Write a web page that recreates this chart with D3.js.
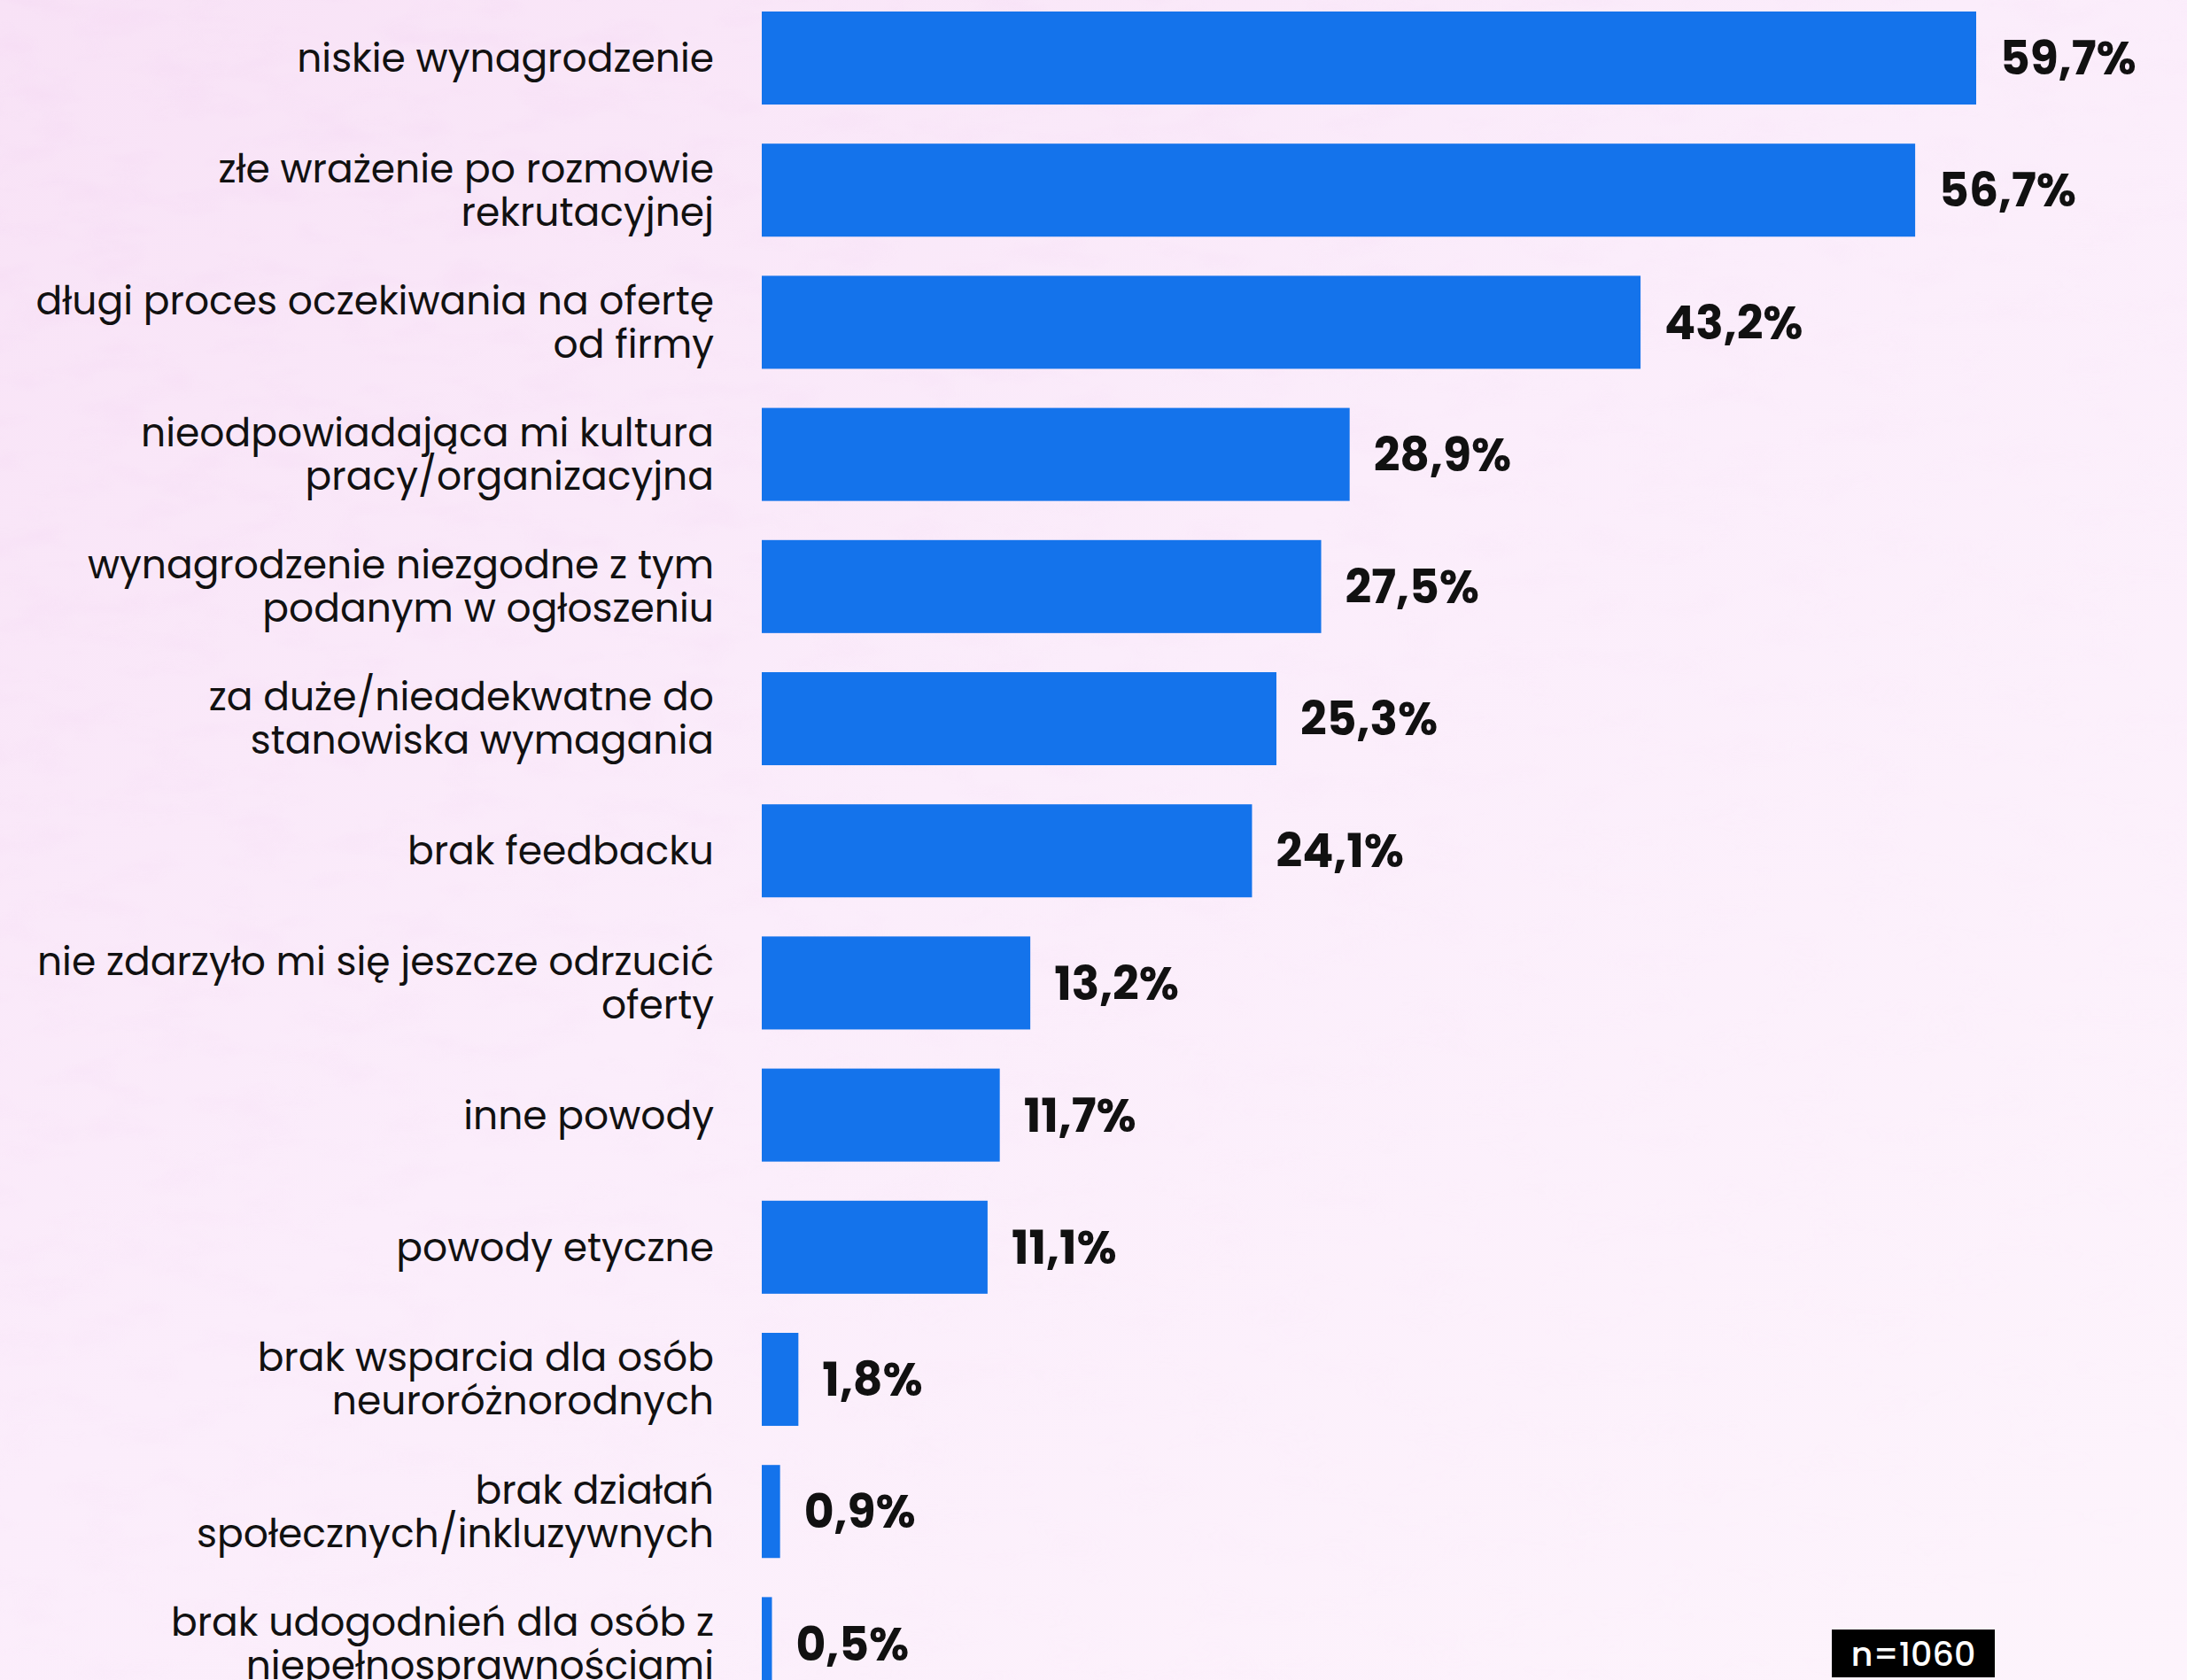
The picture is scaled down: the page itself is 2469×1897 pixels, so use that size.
<!DOCTYPE html>
<html>
<head>
<meta charset="utf-8">
<script src="https://cdn.jsdelivr.net/npm/d3@7"></script>
<style>
  html, body { margin: 0; padding: 0; }
  body { width: 2469px; height: 1897px; overflow: hidden; }
</style>
</head>
<body>
<svg id="bar-chart"></svg>
<script>
// Data
const categories = [
    "niskie wynagrodzenie",
    "złe wrażenie po rozmowie\nrekrutacyjnej",
    "długi proces oczekiwania na ofertę\nod firmy",
    "nieodpowiadająca mi kultura\npracy/organizacyjna",
    "wynagrodzenie niezgodne z tym\npodanym w ogłoszeniu",
    "za duże/nieadekwatne do\nstanowiska wymagania",
    "brak feedbacku",
    "nie zdarzyło mi się jeszcze odrzucić\noferty",
    "inne powody",
    "powody etyczne",
    "brak wsparcia dla osób\nneuroróżnorodnych",
    "brak działań\nspołecznych/inkluzywnych",
    "brak udogodnień dla osób z\nniepełnosprawnościami"
];
const values = [59.7, 56.7, 43.2, 28.9, 27.5, 25.3, 24.1, 13.2, 11.7, 11.1, 1.8, 0.9, 0.5];
const sampleNote = "n=1060";

// Dimensions
const svgWidth = 2469;
const svgHeight = 1897;
const barLeft = 860;
const labelRight = 806;
const step = 149.2;
const pad = 0.296;

const svg = d3.select("#bar-chart")
    .attr("width", svgWidth)
    .attr("height", svgHeight);

// Background: light pink with a faint paper texture, pinker towards top-left
const defs = svg.append("defs");
const grad = defs.append("linearGradient")
    .attr("id", "bg")
    .attr("x1", "0").attr("y1", "0").attr("x2", "1").attr("y2", "1");
grad.append("stop").attr("offset", "0").attr("stop-color", "#f8e2f6");
grad.append("stop").attr("offset", "0.45").attr("stop-color", "#fbedfb");
grad.append("stop").attr("offset", "1").attr("stop-color", "#fdf4fc");

const fade = defs.append("linearGradient")
    .attr("id", "fade")
    .attr("x1", "0").attr("y1", "0").attr("x2", "1").attr("y2", "1");
fade.append("stop").attr("offset", "0").attr("stop-color", "#fff").attr("stop-opacity", 1);
fade.append("stop").attr("offset", "0.6").attr("stop-color", "#fff").attr("stop-opacity", 0.2);
fade.append("stop").attr("offset", "1").attr("stop-color", "#fff").attr("stop-opacity", 0);
defs.append("mask").attr("id", "fadeMask")
    .append("rect").attr("width", svgWidth).attr("height", svgHeight).attr("fill", "url(#fade)");

const noise = defs.append("filter").attr("id", "paper")
    .attr("x", 0).attr("y", 0).attr("width", "100%").attr("height", "100%");
noise.append("feTurbulence")
    .attr("type", "fractalNoise")
    .attr("baseFrequency", "0.012 0.03")
    .attr("numOctaves", 3)
    .attr("seed", 7);
noise.append("feColorMatrix")
    .attr("values", "0 0 0 0 0.88  0 0 0 0 0.62  0 0 0 0 0.88  0 0 0 1.6 -0.75");

svg.append("rect")
    .attr("width", svgWidth)
    .attr("height", svgHeight)
    .attr("fill", "url(#bg)");

svg.append("rect")
    .attr("width", svgWidth)
    .attr("height", svgHeight)
    .attr("filter", "url(#paper)")
    .attr("mask", "url(#fadeMask)")
    .attr("opacity", 0.35);

// Scales
const xScale = d3.scaleLinear()
    .domain([0, 59.7])
    .range([barLeft, 2231]);

const yScale = d3.scaleBand()
    .domain(categories)
    .range([13, 13 + step * (categories.length - pad)])
    .paddingInner(pad)
    .paddingOuter(0);

const rows = categories.map((c, i) => ({ label: c, value: values[i] }));

// Bars
svg.selectAll(".bar")
    .data(rows)
    .enter().append("rect")
    .attr("class", "bar")
    .attr("x", xScale(0))
    .attr("y", d => yScale(d.label))
    .attr("width", d => xScale(d.value) - xScale(0))
    .attr("height", yScale.bandwidth())
    .attr("fill", "#1473eb");

// Category labels
const labelFont = "Poppins, 'Open Sans', sans-serif";
const lineGap = 49;
svg.selectAll(".cat")
    .data(rows)
    .enter().append("text")
    .attr("class", "cat")
    .attr("text-anchor", "end")
    .attr("font-family", labelFont)
    .attr("font-size", 44)
    .attr("fill", "#111")
    .each(function(d) {
        const lines = d.label.split("\n");
        const cy = yScale(d.label) + yScale.bandwidth() / 2;
        const y0 = cy - (lines.length - 1) * lineGap / 2;
        d3.select(this).selectAll("tspan")
            .data(lines)
            .enter().append("tspan")
            .attr("x", labelRight)
            .attr("y", (l, j) => y0 + j * lineGap)
            .attr("dy", "0.35em")
            .text(l => l);
    });

// Value labels
const fmt = v => d3.format(".1f")(v).replace(".", ",") + "%";
svg.selectAll(".val")
    .data(rows)
    .enter().append("text")
    .attr("class", "val")
    .attr("x", d => xScale(d.value) + 27)
    .attr("y", d => yScale(d.label) + yScale.bandwidth() / 2)
    .attr("dy", "0.36em")
    .attr("font-family", labelFont)
    .attr("font-weight", 700)
    .attr("font-size", 52)
    .attr("fill", "#111")
    .text(d => fmt(d.value));

// Sample size box
svg.append("rect")
    .attr("x", 2068)
    .attr("y", 1840)
    .attr("width", 184)
    .attr("height", 54)
    .attr("fill", "#000");

svg.append("text")
    .attr("x", 2160)
    .attr("y", 1867)
    .attr("dy", "0.36em")
    .attr("text-anchor", "middle")
    .attr("font-family", labelFont)
    .attr("font-weight", 500)
    .attr("font-size", 38)
    .attr("fill", "#fff")
    .text(sampleNote);
</script>
</body>
</html>
